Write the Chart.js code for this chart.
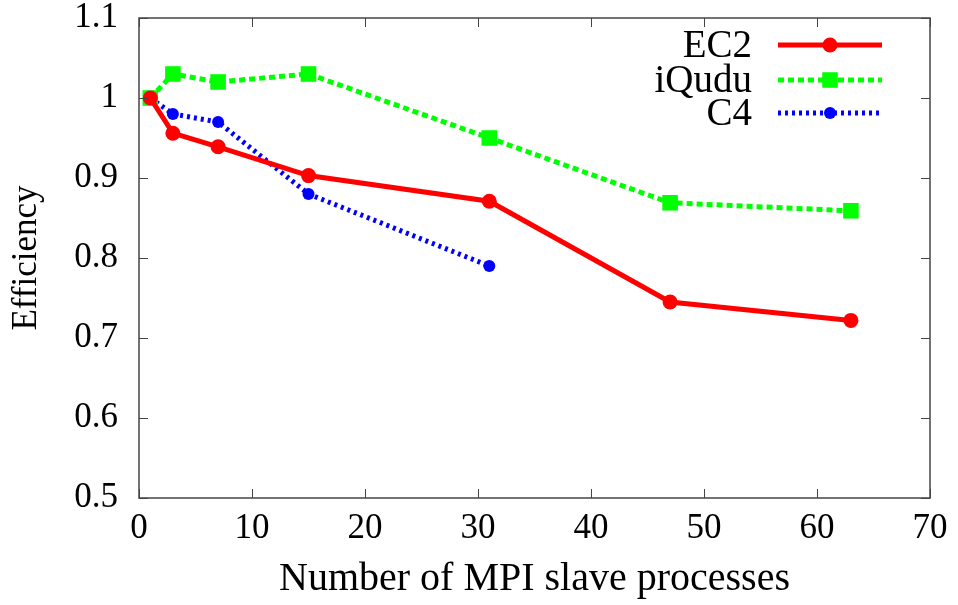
<!DOCTYPE html>
<html>
<head>
<meta charset="utf-8">
<script src="https://cdn.jsdelivr.net/npm/chart.js@4"></script>
<style>
  html, body { margin: 0; padding: 0; background: #fff; font-family: 'Liberation Serif', serif; }
  #wrap { position: relative; width: 958px; height: 605px; }
  /* invisible text so the serif face is in use before the canvas draws */
  #warm { position: absolute; left: 0; top: 0; color: rgba(255,255,255,0); font: 35px 'Liberation Serif'; white-space: nowrap; }
</style>
</head>
<body>
<div id="warm">0.5 1.1 EC2 iQudu C4 Number of MPI slave processes Efficiency</div>
<div id="wrap"><canvas id="effChart" width="958" height="605"></canvas></div>
<script>
// values
const ec2X = [1, 3, 7, 15, 31, 47, 63];
const ec2Y = [1.0, 0.956, 0.939, 0.903, 0.871, 0.745, 0.722];
const iquduX = [1, 3, 7, 15, 31, 47, 63];
const iquduY = [1.0, 1.03, 1.02, 1.03, 0.95, 0.869, 0.859];
const c4X = [1, 3, 7, 15, 31];
const c4Y = [1.0, 0.98, 0.97, 0.88, 0.79];
const seriesNames = ['EC2', 'iQudu', 'C4'];

const toPoints = (xs, ys) => xs.map((x, i) => ({ x: x, y: ys[i] }));
const FONT = "'Liberation Serif', 'DejaVu Serif', serif";

// gnuplot-ish frame, mirrored inner ticks and legend with text left of the sample
const framePlugin = {
  id: 'frame',
  afterDraw(chart) {
    const ctx = chart.ctx;
    const a = chart.chartArea;
    const xs = chart.scales.x, ys = chart.scales.y;
    ctx.save();
    ctx.strokeStyle = '#444';
    ctx.lineWidth = 1.5;
    ctx.strokeRect(a.left, a.top, a.right - a.left, a.bottom - a.top);
    ctx.beginPath();
    xs.ticks.forEach(t => {
      const px = Math.round(xs.getPixelForValue(t.value)) + 0.5;
      ctx.moveTo(px, a.bottom); ctx.lineTo(px, a.bottom - 9);
      ctx.moveTo(px, a.top); ctx.lineTo(px, a.top + 9);
    });
    ys.ticks.forEach(t => {
      const py = Math.round(ys.getPixelForValue(t.value)) + 0.5;
      ctx.moveTo(a.left, py); ctx.lineTo(a.left + 9, py);
      ctx.moveTo(a.right, py); ctx.lineTo(a.right - 9, py);
    });
    ctx.lineWidth = 1;
    ctx.stroke();

    // legend
    const textRight = 752, lineL = 778, lineR = 882;
    const rows = [45, 80, 113];
    chart.data.datasets.forEach((ds, i) => {
      const y = rows[i];
      ctx.fillStyle = '#000';
      ctx.font = '39px ' + FONT;
      ctx.textAlign = 'right';
      ctx.textBaseline = 'middle';
      ctx.fillText(ds.label, textRight, y + 2);
      ctx.strokeStyle = ds.borderColor;
      ctx.lineWidth = ds.borderWidth;
      ctx.setLineDash(ds.borderDash || []);
      ctx.beginPath();
      ctx.moveTo(lineL, y); ctx.lineTo(lineR, y);
      ctx.stroke();
      ctx.setLineDash([]);
      ctx.fillStyle = ds.pointBackgroundColor;
      const mx = (lineL + lineR) / 2;
      const r = ds.pointRadius;
      ctx.beginPath();
      if (ds.pointStyle === 'rect') {
        const s = r * Math.SQRT1_2;
        ctx.fillRect(mx - s, y - s, 2 * s, 2 * s);
      } else {
        ctx.arc(mx, y, r, 0, Math.PI * 2);
        ctx.fill();
      }
    });
    ctx.restore();
  }
};

function drawChart() {
  const ctx = document.getElementById('effChart');

  new Chart(ctx, {
    type: 'line',
    data: {
      datasets: [
        {
          label: seriesNames[0],
          data: toPoints(ec2X, ec2Y),
          borderColor: '#ff0000',
          backgroundColor: '#ff0000',
          pointBackgroundColor: '#ff0000',
          pointBorderWidth: 0,
          borderWidth: 5,
          pointStyle: 'circle',
          pointRadius: 7.5,
          tension: 0
        },
        {
          label: seriesNames[1],
          data: toPoints(iquduX, iquduY),
          borderColor: '#00ff00',
          backgroundColor: '#00ff00',
          pointBackgroundColor: '#00ff00',
          pointBorderWidth: 0,
          borderWidth: 5,
          borderDash: [6, 4],
          pointStyle: 'rect',
          pointRadius: 11,
          tension: 0
        },
        {
          label: seriesNames[2],
          data: toPoints(c4X, c4Y),
          borderColor: '#0000ff',
          backgroundColor: '#0000ff',
          pointBackgroundColor: '#0000ff',
          pointBorderWidth: 0,
          borderWidth: 5,
          borderDash: [3, 4],
          pointStyle: 'circle',
          pointRadius: 6,
          tension: 0
        }
      ]
    },
    options: {
      responsive: false,
      animation: false,
      layout: { padding: { top: 18, right: 28, left: 0, bottom: 0 } },
      plugins: {
        legend: { display: false },
        tooltip: { enabled: false }
      },
      scales: {
        x: {
          type: 'linear',
          min: 0,
          max: 70,
          ticks: {
            stepSize: 10,
            color: '#000',
            font: { family: FONT, size: 35 },
            padding: 10
          },
          grid: { display: false, drawTicks: false },
          border: { display: false },
          title: {
            display: true,
            text: 'Number of MPI slave processes',
            color: '#000',
            font: { family: FONT, size: 40 },
            padding: { top: 0, bottom: 2 }
          },
          afterFit(scale) {
            scale.height = 107;
            scale.paddingLeft = 0;
            scale.paddingRight = 0;
          }
        },
        y: {
          min: 0.5,
          max: 1.1,
          ticks: {
            stepSize: 0.1,
            color: '#000',
            font: { family: FONT, size: 35 },
            padding: 21,
            callback: v => String(+v.toFixed(1))
          },
          grid: { display: false, drawTicks: false },
          border: { display: false },
          title: {
            display: true,
            text: 'Efficiency',
            color: '#000',
            font: { family: FONT, size: 35 },
            padding: { top: 6, bottom: 0 }
          },
          afterFit(scale) {
            scale.width = 139;
            scale.paddingTop = 0;
            scale.paddingBottom = 0;
          }
        }
      }
    },
    plugins: [framePlugin]
  });
}

// force a layout pass with the serif text before the canvas draws
const warmH = document.getElementById('warm').offsetHeight;
console.log('warm', warmH);
drawChart();
</script>
</body>
</html>
